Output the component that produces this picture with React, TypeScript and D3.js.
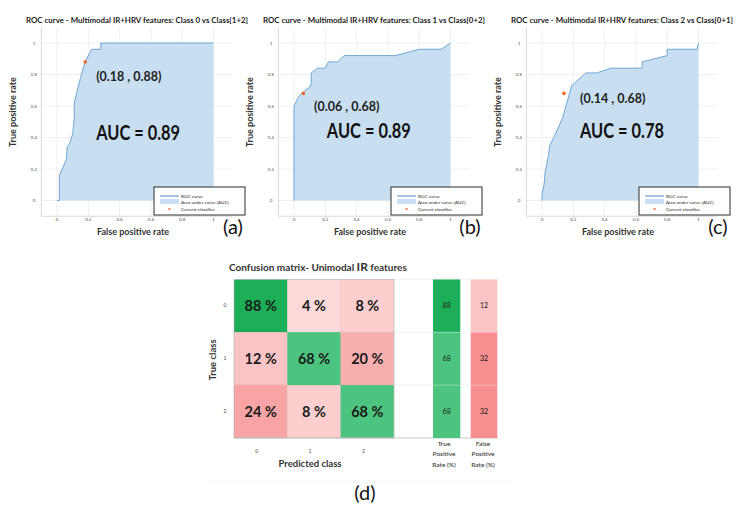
import React from "react";
import * as d3 from "d3";

// ---------- ROC data ----------
const rocTickValues = [0, 0.2, 0.4, 0.6, 0.8, 1];
const rocTickLabels = ["0", "0.2", "0.4", "0.6", "0.8", "1"];

const rocTitles = [
  "ROC curve - Multimodal IR+HRV features: Class 0 vs Class[1+2]",
  "ROC curve - Multimodal IR+HRV features: Class 1 vs Class[0+2]",
  "ROC curve - Multimodal IR+HRV features: Class 2 vs Class[0+1]",
];
const panelLetters = ["(a)", "(b)", "(c)"];

const fprA = [0, 0.015, 0.015, 0.06, 0.065, 0.08, 0.1, 0.11, 0.11, 0.15, 0.18, 0.22, 0.28, 0.28, 1];
const tprA = [0, 0, 0.16, 0.26, 0.34, 0.36, 0.42, 0.52, 0.62, 0.78, 0.88, 0.96, 0.96, 1, 1];

const fprB = [0, 0, 0.03, 0.06, 0.1, 0.11, 0.11, 0.15, 0.2, 0.22, 0.28, 0.32, 0.65, 0.8, 0.94, 1];
const tprB = [0, 0.6, 0.66, 0.69, 0.72, 0.74, 0.81, 0.84, 0.84, 0.88, 0.88, 0.92, 0.92, 0.96, 0.96, 1];

const fprC = [0, 0, 0.013, 0.02, 0.04, 0.05, 0.08, 0.13, 0.19, 0.28, 0.35, 0.44, 0.64, 0.64, 0.8, 0.8, 0.99, 1];
const tprC = [0, 0.04, 0.1, 0.18, 0.28, 0.35, 0.41, 0.52, 0.73, 0.81, 0.81, 0.84, 0.84, 0.88, 0.92, 0.96, 0.96, 1];

const operatingFpr = [0.18, 0.06, 0.14];
const operatingTpr = [0.88, 0.68, 0.68];
const aucValues = ["0.89", "0.89", "0.78"];

const legendLabels = ["ROC curve", "Area under curve (AUC)", "Current classifier"];

// ---------- Confusion matrix data ----------
const cmClasses = ["0", "1", "2"];
const cmPercent = [
  [88, 4, 8],
  [12, 68, 20],
  [24, 8, 68],
];
const tprValues = [88, 68, 68];
const fprValues = [12, 32, 32];

const FONT = "Lato, 'Open Sans', sans-serif";

type PanelLayout = {
  x0: number;
  annX: number;
  annY: number;
  aucX: number;
  aucY: number;
  fpr: number[];
  tpr: number[];
};

function RocPanel({ i, layout }: { i: number; layout: PanelLayout }) {
  const x = d3.scaleLinear().domain([0, 1]).range([layout.x0, layout.x0 + 156.5]);
  const y = d3.scaleLinear().domain([0, 1]).range([200.5, 43]);
  const pts = layout.fpr.map((f, k) => [f, layout.tpr[k]] as [number, number]);
  const area = d3
    .area<[number, number]>()
    .x((d) => x(d[0]))
    .y0(y(0))
    .y1((d) => y(d[1]));
  const line = d3
    .line<[number, number]>()
    .x((d) => x(d[0]))
    .y((d) => y(d[1]));
  const axLeft = x(-0.1);
  const axRight = x(1.12);
  const axTop = y(1.1);
  const axBottom = y(-0.1);
  const lx = layout.x0 + 97;
  const ly = 187;
  return (
    <g>
      {/* grid */}
      {rocTickValues.map((t) => (
        <line key={"gx" + t} x1={x(t)} x2={x(t)} y1={axTop} y2={axBottom} stroke="#ececec" strokeWidth={0.8} />
      ))}
      {rocTickValues.map((t) => (
        <line key={"gy" + t} x1={axLeft} x2={axRight} y1={y(t)} y2={y(t)} stroke="#ececec" strokeWidth={0.8} />
      ))}
      <line x1={axLeft} x2={axLeft} y1={axTop} y2={axBottom} stroke="#cfcfcf" strokeWidth={0.8} />
      <line x1={axLeft} x2={axRight} y1={axBottom} y2={axBottom} stroke="#cfcfcf" strokeWidth={0.8} />
      {/* tick labels */}
      {rocTickValues.map((t, k) => (
        <text key={"tx" + t} x={x(t)} y={axBottom + 5} fontSize={4.5} fill="#555" textAnchor="middle" fontFamily={FONT}>
          {rocTickLabels[k]}
        </text>
      ))}
      {rocTickValues.map((t, k) => (
        <text key={"ty" + t} x={layout.x0 - 23} y={y(t) + 1.5} fontSize={4.5} fill="#555" textAnchor="middle" fontFamily={FONT}>
          {rocTickLabels[k]}
        </text>
      ))}
      {/* area & curve */}
      <path d={area(pts) || ""} fill="#c7dff1" />
      <path d={line(pts) || ""} fill="none" stroke="#6fa7d6" strokeWidth={1} />
      <circle cx={x(operatingFpr[i])} cy={y(operatingTpr[i])} r={1.8} fill="#ec6a2c" />
      {/* title */}
      <text x={layout.x0 + 80} y={23} fontSize={8.2} fontWeight={700} fill="#222" textAnchor="middle" fontFamily={FONT} textLength={222} lengthAdjust="spacingAndGlyphs">
        {rocTitles[i]}
      </text>
      {/* axis labels */}
      <text x={layout.x0 + 76} y={235} fontSize={9} fontWeight={700} fill="#333" textAnchor="middle" fontFamily={FONT}>
        False positive rate
      </text>
      <text transform={`translate(${layout.x0 - 41},112) rotate(-90)`} fontSize={9} fontWeight={700} fill="#333" textAnchor="middle" fontFamily={FONT}>
        True positive rate
      </text>
      {/* annotations */}
      <text x={x(layout.annX)} y={y(layout.annY) + 4.5} fontSize={12.5} fontWeight={700} fill="#222" fontFamily={FONT}>
        {`(${operatingFpr[i].toFixed(2)} , ${operatingTpr[i].toFixed(2)})`}
      </text>
      <text x={x(layout.aucX)} y={y(layout.aucY) + 7} fontSize={20} fontWeight={700} fill="#111" fontFamily={FONT} textLength={84} lengthAdjust="spacingAndGlyphs">
        {`AUC = ${aucValues[i]}`}
      </text>
      {/* legend */}
      <rect x={lx} y={ly} width={91} height={28} fill="#fff" stroke="#2a2a2a" strokeWidth={1} />
      <line x1={lx + 6} x2={lx + 25} y1={ly + 9} y2={ly + 9} stroke="#6fa7d6" strokeWidth={1.3} />
      <rect x={lx + 6} y={ly + 12} width={19} height={5} fill="#c7dff1" />
      <circle cx={lx + 15.5} cy={ly + 22} r={1.1} fill="#ec6a2c" />
      {legendLabels.map((l, k) => (
        <text key={l} x={lx + 27} y={ly + 10.5 + k * 6.7} fontSize={4.6} fill="#222" fontFamily={FONT}>
          {l}
        </text>
      ))}
      {/* panel letter */}
      <text x={layout.x0 + 176} y={234} fontSize={20} fill="#111" textAnchor="middle" fontFamily={FONT}>
        {panelLetters[i]}
      </text>
    </g>
  );
}

function ConfusionMatrix() {
  const xb = d3.scaleBand<string>().domain(cmClasses).range([234, 394]);
  const yb = d3.scaleBand<string>().domain(cmClasses).range([279.3, 438]);
  const green = d3.scaleLinear<string>().domain([68, 88]).range(["#4cc47f", "#1daf58"]);
  const red = d3.scaleLinear<string>().domain([0, 32]).range(["#fde3e3", "#f88f8f"]);
  const cellColor = (r: number, c: number, v: number) => (r === c ? green(v) : red(v));
  const bw = xb.bandwidth();
  const bh = yb.bandwidth();
  const tprX = 433;
  const tprW = 27.3;
  const fprX = 470.7;
  const fprW = 26.6;
  return (
    <g>
      <text x={229} y={271} fontSize={10} fontWeight={700} fill="#333" fontFamily={FONT}>
        Confusion matrix- Unimodal <tspan fontSize={12}>IR</tspan> features
      </text>
      {cmPercent.map((row, r) =>
        row.map((v, c) => (
          <g key={`${r}-${c}`}>
            <rect x={xb(cmClasses[c])} y={yb(cmClasses[r])} width={bw} height={bh} fill={cellColor(r, c, v)} stroke="rgba(0,0,0,0.07)" strokeWidth={0.6} />
            <text x={(xb(cmClasses[c]) as number) + bw / 2} y={(yb(cmClasses[r]) as number) + bh / 2 + 5} fontSize={14.5} fontWeight={700} fill="#1a1a1a" textAnchor="middle" fontFamily={FONT}>
              {`${v} %`}
            </text>
          </g>
        ))
      )}
      {/* white separator column with faint row lines */}
      {cmClasses.map((k) => (
        <line key={"wl" + k} x1={394} x2={498} y1={(yb(k) as number)} y2={(yb(k) as number)} stroke="#e6e6e6" strokeWidth={0.7} />
      ))}
      <rect x={234} y={279.3} width={160} height={158.7} fill="none" stroke="#bdbdbd" strokeWidth={0.7} />
      <line x1={234} x2={498} y1={438} y2={438} stroke="#bdbdbd" strokeWidth={0.8} />
      {tprValues.map((v, r) => (
        <g key={"tpr" + r}>
          <rect x={tprX} y={yb(cmClasses[r])} width={tprW} height={bh} fill={green(v)} />
          <text x={tprX + tprW / 2} y={(yb(cmClasses[r]) as number) + bh / 2 + 2.5} fontSize={7} fill="#1a1a1a" textAnchor="middle" fontFamily={FONT}>
            {v}
          </text>
        </g>
      ))}
      {fprValues.map((v, r) => (
        <g key={"fpr" + r}>
          <rect x={fprX} y={yb(cmClasses[r])} width={fprW} height={bh} fill={red(v)} />
          <text x={fprX + fprW / 2} y={(yb(cmClasses[r]) as number) + bh / 2 + 2.5} fontSize={7} fill="#1a1a1a" textAnchor="middle" fontFamily={FONT}>
            {v}
          </text>
        </g>
      ))}
      {cmClasses.map((k) => (
        <line key={"tl" + k} x1={tprX} x2={fprX + fprW} y1={(yb(k) as number)} y2={(yb(k) as number)} stroke="rgba(255,255,255,0.5)" strokeWidth={0.6} />
      ))}
      {/* tick labels */}
      {cmClasses.map((k) => (
        <text key={"rl" + k} x={225} y={(yb(k) as number) + bh / 2 + 1.5} fontSize={5} fill="#444" textAnchor="middle" fontFamily={FONT}>
          {k}
        </text>
      ))}
      {cmClasses.map((k) => (
        <text key={"cl" + k} x={(xb(k) as number) + bw / 2 - 4} y={453} fontSize={5} fill="#444" textAnchor="middle" fontFamily={FONT}>
          {k}
        </text>
      ))}
      <text x={310} y={467} fontSize={9.5} fontWeight={700} fill="#333" textAnchor="middle" fontFamily={FONT}>
        Predicted class
      </text>
      <text transform="translate(216,360) rotate(-90)" fontSize={9.5} fontWeight={700} fill="#333" textAnchor="middle" fontFamily={FONT}>
        True class
      </text>
      {["True", "Positive", "Rate (%)"].map((t, k) => (
        <text key={"tp" + t} x={444} y={446 + k * 10.3} fontSize={6.5} fontWeight={600} fill="#444" textAnchor="middle" fontFamily={FONT}>
          {t}
        </text>
      ))}
      {["False", "Positive", "Rate (%)"].map((t, k) => (
        <text key={"fp" + t} x={483} y={446 + k * 10.3} fontSize={6.5} fontWeight={600} fill="#444" textAnchor="middle" fontFamily={FONT}>
          {t}
        </text>
      ))}
      <line x1={207} x2={510} y1={482} y2={482} stroke="#f0f0f0" strokeWidth={0.8} />
      <text x={365} y={500} fontSize={20} fill="#111" textAnchor="middle" fontFamily={FONT}>
        (d)
      </text>
    </g>
  );
}

export default function App() {
  const layouts: PanelLayout[] = [
    { x0: 57, annX: 0.25, annY: 0.79, aucX: 0.25, aucY: 0.43, fpr: fprA, tpr: tprA },
    { x0: 294, annX: 0.128, annY: 0.594, aucX: 0.21, aucY: 0.44, fpr: fprB, tpr: tprB },
    { x0: 542, annX: 0.243, annY: 0.65, aucX: 0.243, aucY: 0.44, fpr: fprC, tpr: tprC },
  ];
  return (
    <svg width={742} height={512} style={{ position: "absolute", left: 0, top: 0, background: "#fff" }}>
      <rect width={742} height={512} fill="#fff" />
      {layouts.map((l, i) => (
        <RocPanel key={i} i={i} layout={l} />
      ))}
      <ConfusionMatrix />
    </svg>
  );
}
